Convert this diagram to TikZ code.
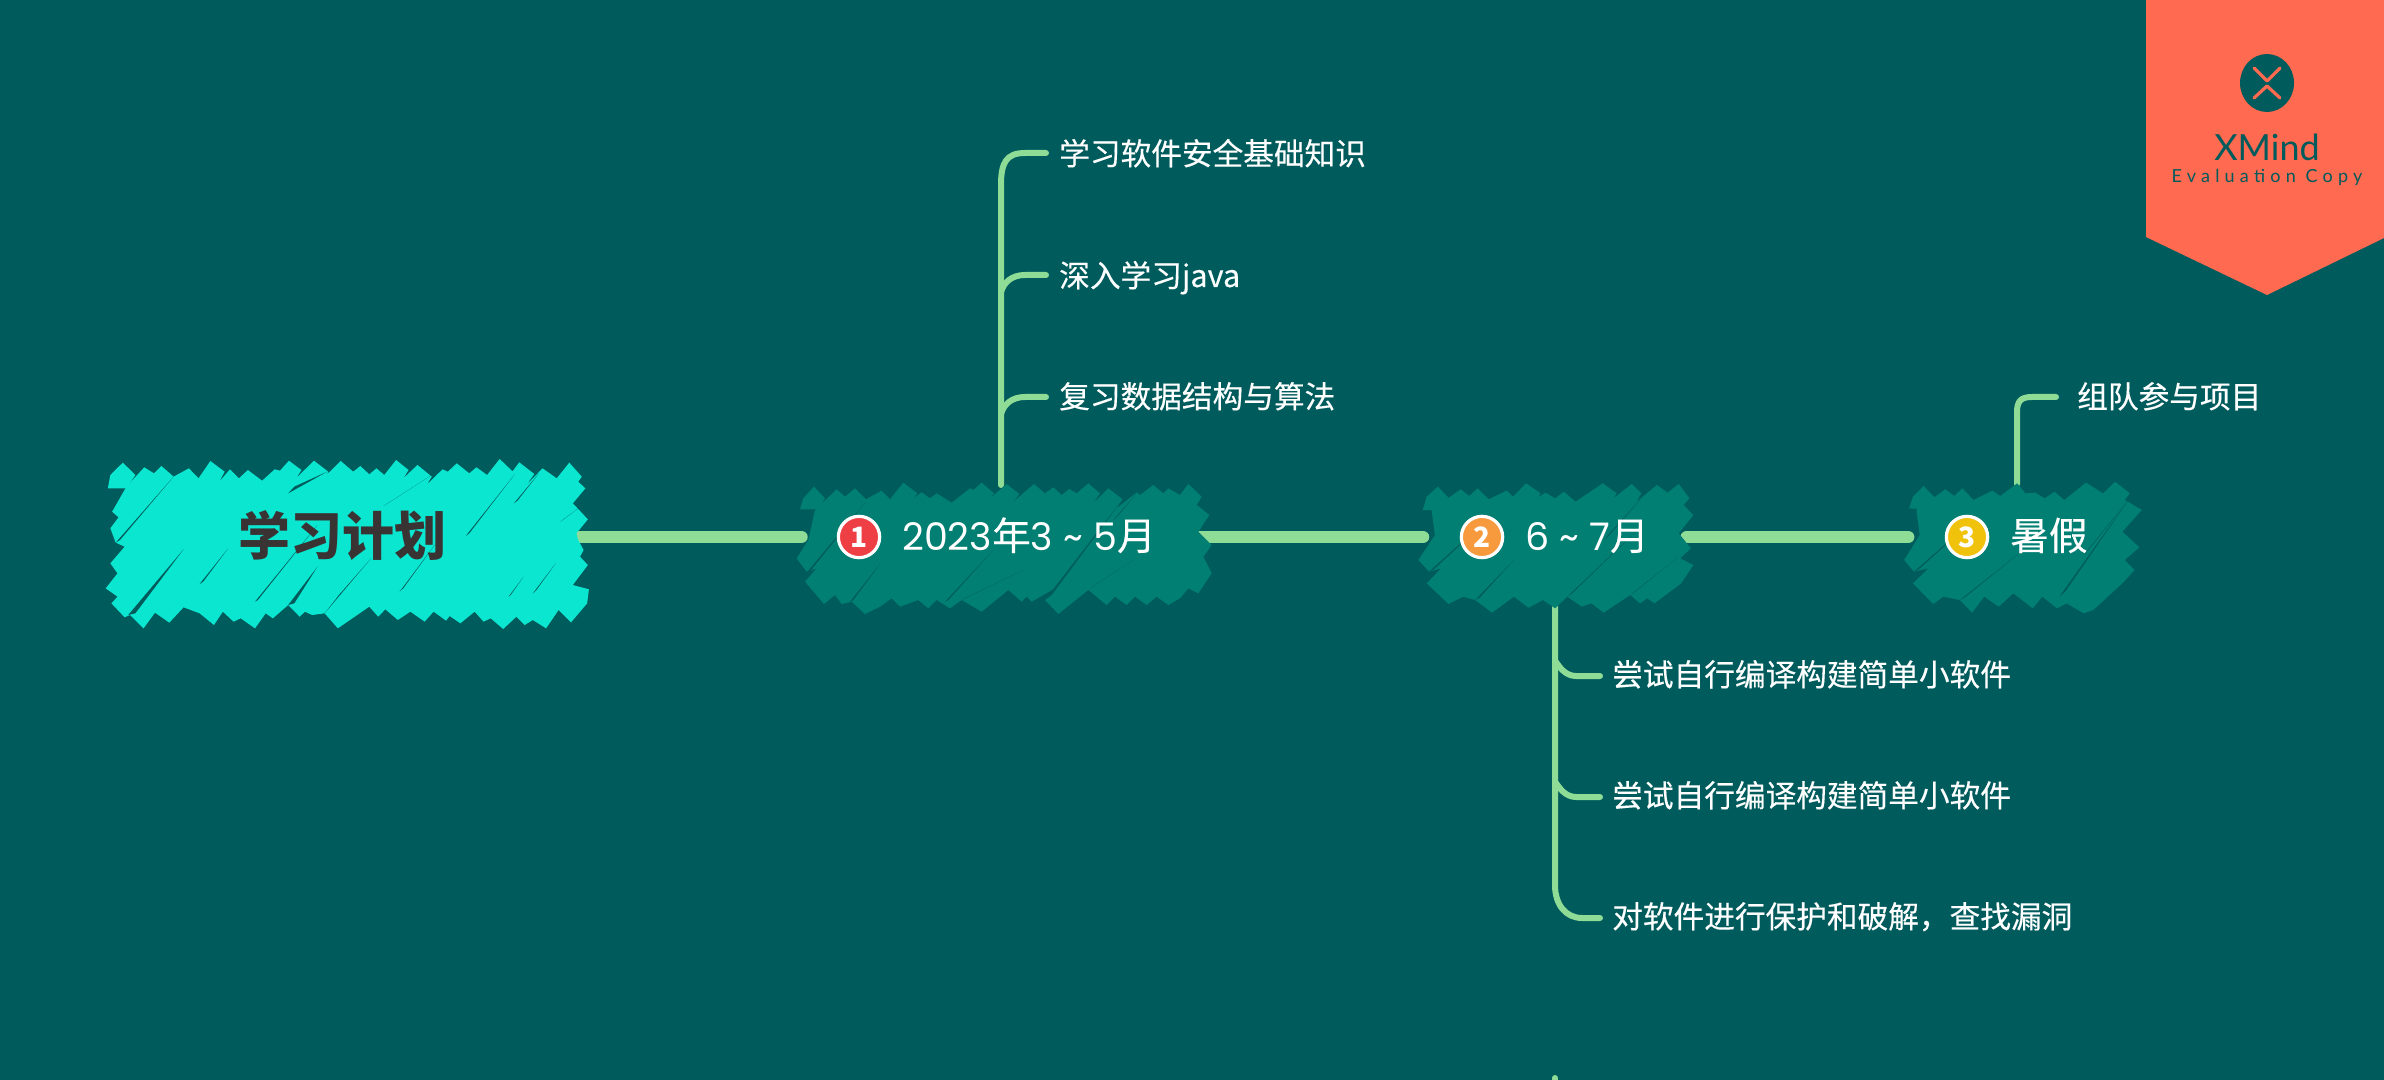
\documentclass[tikz,border=0pt]{standalone}
\usepackage{fontspec}
\setmainfont{Noto Sans CJK SC}
\newfontfamily\latinfont{Lato}
\newfontfamily\digitfont{Poppins}
\newcommand{\dg}[1]{{\digitfont\fontsize{28.5}{28}\selectfont #1}}
\pgfdeclarelayer{bgl}
\pgfdeclarelayer{conn}
\pgfdeclarelayer{scrib}
\pgfsetlayers{bgl,conn,scrib,main}
\definecolor{bgc}{HTML}{005B5C}
\definecolor{rootc}{HTML}{0AE6D0}
\definecolor{topc}{HTML}{007F72}
\definecolor{linec}{HTML}{8EDC96}
\definecolor{ribbon}{HTML}{FF6A50}
\definecolor{rootink}{HTML}{3A3333}
\definecolor{bred}{HTML}{EE3F45}
\definecolor{borange}{HTML}{F79A3E}
\definecolor{byellow}{HTML}{F0C20C}
\tikzset{
  mainline/.style={draw=linec,line width=9.5pt,line cap=round,shorten >=4pt},
  branch/.style={draw=linec,line width=4.5pt,line cap=round,line join=round},
  leaf/.style={text=white,anchor=west,inner sep=0pt,font=\fontsize{23}{23}\selectfont\addfontfeature{FakeBold=0.35},text height=19pt,text depth=4pt},
  topic/.style={text=white,anchor=west,inner sep=0pt,font=\fontsize{29}{29}\selectfont\addfontfeature{FakeBold=0.35},text height=23pt,text depth=5pt},
  box/.style={inner sep=0pt,minimum height=100pt},
  badge/.style={circle,draw=white,line width=2.4pt,minimum size=31pt,inner sep=0pt,text=white,font=\fontsize{21}{21}\selectfont\bfseries},
}
\begin{document}
\begin{tikzpicture}[x=0.75pt,y=-0.75pt]
\useasboundingbox (0,0) rectangle (2384,1080);
\begin{pgfonlayer}{bgl}
\fill[bgc] (0,0) rectangle (2384,1080);
\end{pgfonlayer}

% invisible topic regions used as connector anchors
\node[box,minimum width=359.25pt] (root) at (345,537) {};
\node[box,minimum width=294.75pt] (t1) at (1003.5,537) {};
\node[box,minimum width=193.5pt] (t2) at (1557.5,537) {};
\node[box,minimum width=155pt] (t3) at (2017,537) {};

% scribbled fills
\begin{pgfonlayer}{scrib}
\begin{scope}[shift={(80,430)},x=0.26786pt,y=-0.25pt]
\fill[rootc] plot coordinates {(78,175)(85,135)(120,98)(155,135)(130,175)} -- cycle;
\fill[rootc] plot coordinates {(90,245)(130,170)(180,112)(207,130)(228,108)(262,140)(305,115)(332,145)(365,93)(405,125)(390,155)(420,118)(445,145)(470,120)(510,152)(545,118)(560,122)(585,92)(620,120)(605,145)(655,92)(695,125)(690,135)(730,93)(765,125)(785,108)(810,133)(830,115)(852,135)(885,90)(920,120)(905,145)(945,105)(985,140)(970,165)(1015,118)(1030,125)(1055,100)(1090,130)(1110,112)(1140,135)(1175,87)(1212,125)(1200,140)(1230,97)(1272,132)(1250,165)(1295,115)(1335,145)(1370,98)(1405,140)(1395,155)(1415,175)(1380,220)(1422,268)(1390,310)(1395,330)(1410,360)(1400,380)(1422,405)(1380,465)(1425,478)(1420,520)(1375,577)(1340,540)(1305,595)(1268,570)(1245,585)(1222,560)(1185,597)(1150,565)(1130,575)(1105,545)(1065,580)(1035,558)(1025,572)(990,545)(965,575)(925,545)(890,570)(855,538)(835,560)(810,530)(722,595)(685,550)(650,555)(630,545)(615,560)(583,525)(540,565)(520,550)(490,595)(450,565)(430,575)(400,545)(375,585)(335,550)(290,532)(250,578)(210,548)(178,595)(140,555)(125,562)(88,520)(105,500)(72,475)(105,430)(85,400)(125,350)(100,338)(85,295)(108,262)} -- cycle;
\fill[bgc] (100,338)--(262,140)--(112,330)--cycle;
\fill[bgc] (135,555)--(290,358)--(155,550)--cycle;
\fill[bgc] (335,462)--(415,355)--(345,455)--cycle;
\fill[bgc] (490,515)--(665,285)--(498,510)--cycle;
\fill[bgc] (583,190)--(692,125)--(600,170)--cycle;
\fill[bgc] (583,525)--(665,410)--(600,520)--cycle;
\fill[bgc] (685,550)--(815,385)--(725,495)--cycle;
\fill[bgc] (850,228)--(985,135)--(862,220)--cycle;
\fill[bgc] (895,485)--(1000,335)--(905,475)--cycle;
\fill[bgc] (1080,318)--(1218,132)--(1090,310)--cycle;
\fill[bgc] (1215,220)--(1285,130)--(1225,212)--cycle;
\fill[bgc] (1200,500)--(1242,440)--(1206,495)--cycle;
\fill[bgc] (1268,490)--(1332,400)--(1278,480)--cycle;
\fill[bgc] (1345,275)--(1395,235)--(1352,270)--cycle;
\end{scope}

\begin{scope}[shift={(780,460)},x=0.25pt,y=-0.25pt]
\fill[topc] plot coordinates {(60,148)(70,115)(102,80)(135,115)(115,148)} -- cycle;
\fill[topc] plot coordinates {(105,150)(170,88)(195,110)(225,85)(258,118)(305,92)(330,118)(370,68)(412,100)(400,115)(425,97)(450,115)(470,100)(515,128)(570,85)(580,90)(605,68)(642,100)(630,115)(680,72)(718,102)(700,125)(762,72)(795,100)(820,82)(845,105)(868,87)(890,100)(925,70)(960,100)(940,130)(985,85)(1028,118)(1010,145)(1070,97)(1080,105)(1120,75)(1150,100)(1165,85)(1200,105)(1225,72)(1265,110)(1250,135)(1288,165)(1255,215)(1295,255)(1270,290)(1295,340)(1255,400)(1225,385)(1200,415)(1165,435)(1130,410)(1100,435)(1065,410)(1040,435)(1005,410)(980,435)(925,390)(835,462)(795,420)(825,385)(755,425)(740,410)(725,425)(685,390)(605,455)(545,420)(510,445)(470,420)(445,445)(415,420)(360,440)(335,415)(300,440)(255,462)(215,425)(185,432)(165,405)(132,432)(75,365)(110,325)(80,335)(50,295)(85,240)} -- cycle;
\fill[bgc] (80,338)--(258,125)--(95,328)--cycle;
\fill[bgc] (210,425)--(300,312)--(220,420)--cycle;
\fill[bgc] (495,425)--(640,270)--(505,420)--cycle;
\fill[bgc] (545,420)--(730,330)--(560,412)--cycle;
\fill[bgc] (795,420)--(1028,118)--(815,405)--cycle;
\fill[bgc] (930,385)--(1060,300)--(940,378)--cycle;
\fill[bgc] (1000,180)--(1072,97)--(1010,172)--cycle;
\end{scope}

\begin{scope}[shift={(1400,460)},x=0.3636pt,y=-0.25pt]
\fill[topc] plot coordinates {(47,150)(55,110)(78,80)(100,113)(85,150)} -- cycle;
\fill[topc] plot coordinates {(65,150)(125,88)(143,108)(160,85)(183,118)(220,92)(233,110)(260,70)(290,100)(285,112)(300,98)(320,115)(338,95)(362,125)(418,70)(447,100)(440,115)(478,72)(498,100)(488,125)(530,75)(552,98)(575,72)(597,115)(585,135)(605,165)(575,220)(600,265)(578,295)(605,315)(580,370)(525,430)(510,415)(495,430)(475,405)(420,458)(395,430)(375,440)(345,410)(320,445)(295,420)(265,443)(235,410)(190,458)(155,420)(130,410)(100,432)(55,370)(85,325)(60,335)(38,300)(72,225)} -- cycle;
\fill[bgc] (60,335)--(190,165)--(70,328)--cycle;
\fill[bgc] (155,420)--(235,300)--(165,412)--cycle;
\fill[bgc] (345,410)--(490,210)--(355,400)--cycle;
\fill[bgc] (475,405)--(575,290)--(485,395)--cycle;
\fill[bgc] (420,240)--(510,95)--(432,225)--cycle;
\end{scope}

\begin{scope}[shift={(1400,460)},x=0.3636pt,y=-0.25pt]
\fill[topc] plot coordinates {(1050,145)(1058,110)(1080,78)(1103,113)(1088,148)} -- cycle;
\fill[topc] plot coordinates {(1065,150)(1125,88)(1143,108)(1160,85)(1183,120)(1222,92)(1238,108)(1273,70)(1290,100)(1310,98)(1330,115)(1350,95)(1370,120)(1415,68)(1450,100)(1440,115)(1475,65)(1505,100)(1495,120)(1530,150)(1490,215)(1525,262)(1495,300)(1515,330)(1490,370)(1430,450)(1410,460)(1375,430)(1355,445)(1325,410)(1305,445)(1265,400)(1235,440)(1205,410)(1180,458)(1155,420)(1120,410)(1100,432)(1058,370)(1090,325)(1060,335)(1040,300)(1072,225)} -- cycle;
\fill[bgc] (1060,335)--(1190,170)--(1070,328)--cycle;
\fill[bgc] (1155,420)--(1290,265)--(1165,412)--cycle;
\fill[bgc] (1360,410)--(1505,115)--(1372,395)--cycle;
\fill[bgc] (1410,285)--(1505,115)--(1420,270)--cycle;
\end{scope}
\end{pgfonlayer}

% labels
\node[inner sep=0pt,text=rootink,font=\fontsize{39}{39}\selectfont\bfseries,text height=33pt,text depth=6pt] (roottext) at (342,537) {学习计划};

\node[badge,fill=bred] (b1) at (859,537) {1};
\node[topic] (t1text) at (902,538) {\dg{2023}年\dg{3 \textasciitilde{} 5}月};
\node[badge,fill=borange] (b2) at (1482,537) {2};
\node[topic] (t2text) at (1525,538) {\dg{6 \textasciitilde{} 7}月};
\node[badge,fill=byellow] (b3) at (1967,537) {3};
\node[topic] (t3text) at (2010,538) {暑假};

\node[leaf] (l1) at (1059,155) {学习软件安全基础知识};
\node[leaf] (l2) at (1059,277) {深入学习java};
\node[leaf] (l3) at (1059,398) {复习数据结构与算法};
\node[leaf] (l4) at (2077,398) {组队参与项目};
\node[leaf] (l5) at (1612,676) {尝试自行编译构建简单小软件};
\node[leaf] (l6) at (1612,797) {尝试自行编译构建简单小软件};
\node[leaf] (l7) at (1612,918) {对软件进行保护和破解，查找漏洞};

% connectors
\coordinate (t1up) at (1001,485);
\coordinate (t3up) at (2017,484);
\coordinate (t2down) at (1555,606);
\coordinate (offpage) at (1555,1083);
\coordinate (offstub) at (1555,1078);
\begin{pgfonlayer}{conn}
\draw[mainline] ([xshift=-5pt]root.east) -- (t1.west);
\draw[mainline] (t1.east) -- (t2.west);
\draw[mainline] (t2.east) -- (t3.west);

\draw[branch] (t1up) -- (1001,185) .. controls (1001,163) and (1006,153) .. (1025,153) -- (1046,153);
\draw[branch] (1001,292) .. controls (1004,282) and (1012,275) .. (1025,275) -- (1046,275);
\draw[branch] (1001,414) .. controls (1004,404) and (1012,397) .. (1025,397) -- (1046,397);

\draw[branch] (t3up) -- (2017,412) .. controls (2017,401) and (2021,397) .. (2032,397) -- (2056,397);

\draw[branch] (t2down) -- (1555,885) .. controls (1555,905) and (1566,918) .. (1582,918) -- ([xshift=-9pt]l7.west);
\draw[branch] (1556,662) .. controls (1560,668) and (1566,676) .. (1576,676) -- ([xshift=-9pt]l5.west);
\draw[branch] (1556,783) .. controls (1560,789) and (1566,797) .. (1576,797) -- ([xshift=-9pt]l6.west);
\draw[branch] (offstub) -- (offpage);
\end{pgfonlayer}

% evaluation ribbon
\fill[ribbon] (2146,0) -- (2384,0) -- (2384,238) -- (2267,295) -- (2146,237) -- cycle;
\fill[bgc] (2267,83) ellipse [x radius=27,y radius=29];
\draw[ribbon,line width=2.4pt,line cap=round,line join=round] (2254,68) -- (2267,81) -- (2280,68);
\draw[ribbon,line width=2.4pt,line cap=round,line join=round] (2254,98) -- (2267,86) -- (2280,98);
\node[inner sep=0pt,text=bgc,font=\latinfont\fontsize{27}{27}\selectfont] (xm) at (2267,147) {XMind};
\node[inner sep=0pt,text=bgc,font=\latinfont\fontsize{13.5}{14}\selectfont\addfontfeature{LetterSpace=29}] (ev) at (2267,177) {Evaluation Copy};
\end{tikzpicture}
\end{document}
